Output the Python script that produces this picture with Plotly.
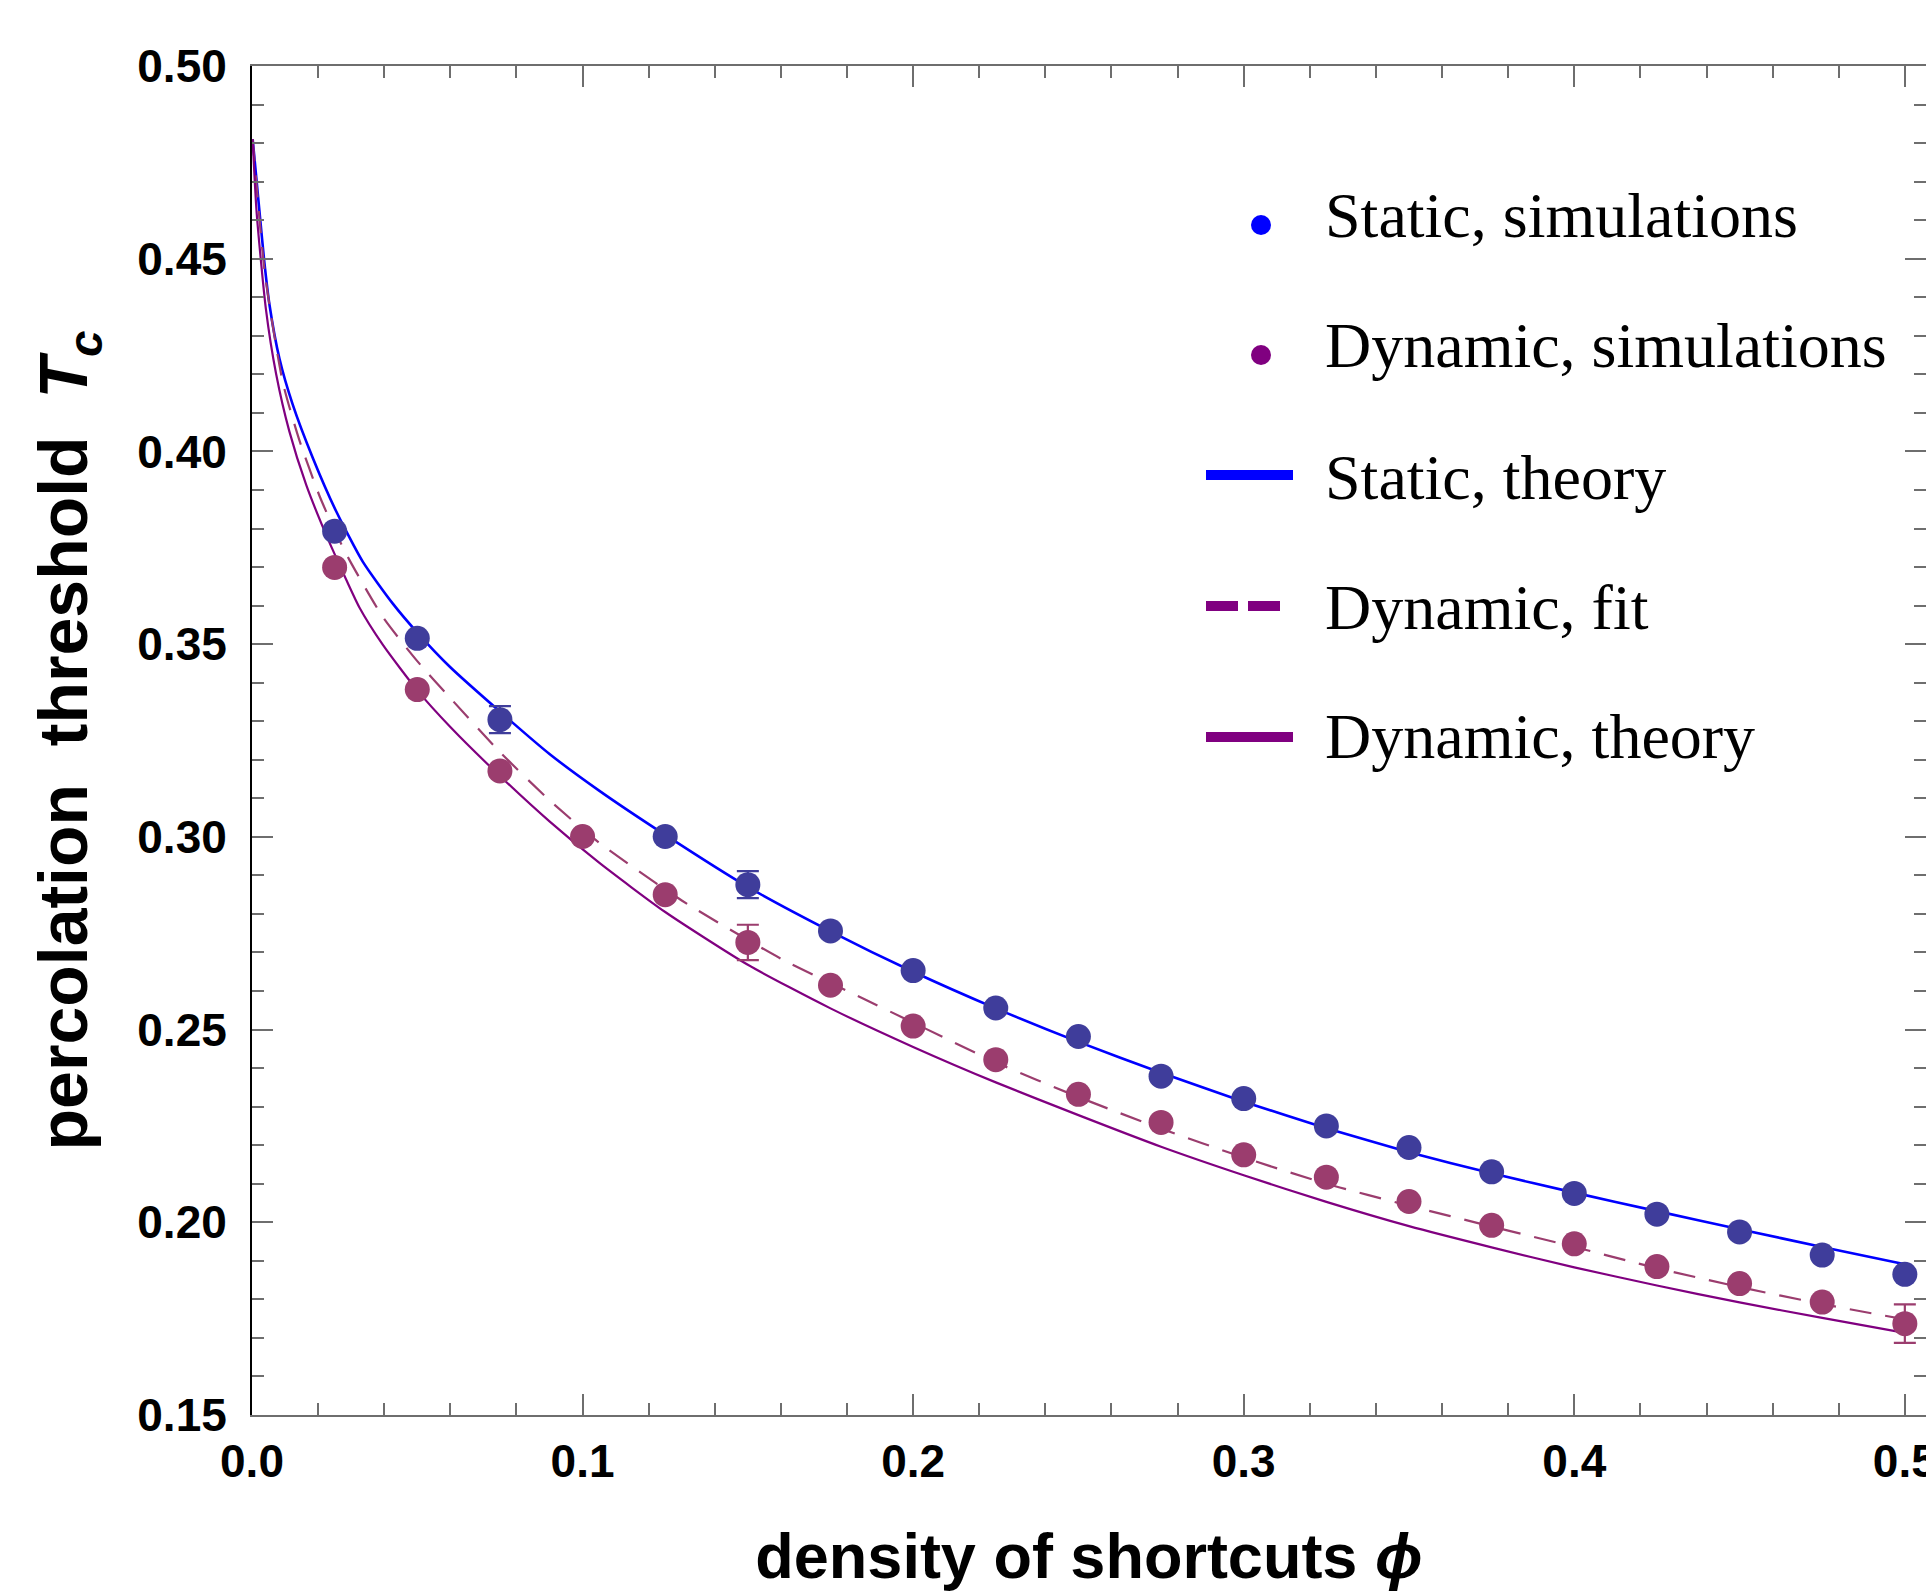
import plotly.graph_objects as go

# ---------------- data ----------------
static_x = [0.025, 0.05, 0.075, 0.125, 0.15, 0.175, 0.2, 0.225, 0.25, 0.275,
            0.3, 0.325, 0.35, 0.375, 0.4, 0.425, 0.45, 0.475, 0.5]
static_y = [0.3793, 0.3515, 0.3304, 0.3001, 0.2876, 0.2756, 0.2653, 0.2556, 0.2482, 0.2379,
            0.2321, 0.2250, 0.2194, 0.2131, 0.2075, 0.2021, 0.1975, 0.1915, 0.1865]
static_err = [0.0, 0.0, 0.0035, 0.0, 0.0035, 0.0, 0.0, 0.0, 0.0, 0.0,
              0.0, 0.0, 0.0, 0.0, 0.0, 0.0, 0.0, 0.0, 0.0]

dyn_x = [0.025, 0.05, 0.075, 0.1, 0.125, 0.15, 0.175, 0.2, 0.225, 0.25,
         0.275, 0.3, 0.325, 0.35, 0.375, 0.4, 0.425, 0.45, 0.475, 0.5]
dyn_y = [0.3699, 0.3382, 0.3171, 0.3001, 0.2850, 0.2726, 0.2615, 0.2509, 0.2422, 0.2332,
         0.2259, 0.2175, 0.2117, 0.2054, 0.1992, 0.1944, 0.1885, 0.1841, 0.1793, 0.1737]
dyn_err = [0.0, 0.0, 0.0, 0.0, 0.0, 0.0046, 0.0, 0.0, 0.0, 0.0,
           0.0, 0.0, 0.0, 0.0, 0.0, 0.0, 0.0, 0.0, 0.0, 0.005]

static_theory_x = [0.0002, 0.0022, 0.0037, 0.0053, 0.0083, 0.0123, 0.0184, 0.0255, 0.0335,
                   0.0426, 0.05, 0.06, 0.075, 0.09, 0.105, 0.125, 0.15, 0.175, 0.2, 0.225,
                   0.25, 0.275, 0.3, 0.325, 0.35, 0.375, 0.4, 0.425, 0.45, 0.475, 0.5]
static_theory_y = [0.4810, 0.4628, 0.4494, 0.4380, 0.4241, 0.4122, 0.3983, 0.3844, 0.3714,
                   0.3605, 0.3530, 0.3440, 0.3325, 0.3215, 0.3120, 0.3005, 0.2870, 0.2755, 0.2650, 0.2555,
                   0.2468, 0.2388, 0.2313, 0.2244, 0.2182, 0.2127, 0.2077, 0.2029, 0.1982, 0.1936, 0.1891]

dyn_fit_x = [0.0002, 0.004, 0.0093, 0.0143, 0.0204, 0.025, 0.0295, 0.0396, 0.05,
             0.06, 0.075, 0.09, 0.105, 0.13, 0.16, 0.185, 0.2, 0.225, 0.25, 0.275, 0.3,
             0.325, 0.35, 0.375, 0.4, 0.425, 0.45, 0.475, 0.5]
dyn_fit_y = [0.4810, 0.4455, 0.4180, 0.4030, 0.3885, 0.3795, 0.3718, 0.3570, 0.3456,
             0.3360, 0.3220, 0.3095, 0.2985, 0.2835, 0.2684, 0.2580, 0.2518, 0.2415, 0.2325, 0.2243, 0.2168,
             0.2100, 0.2043, 0.1989, 0.1936, 0.1881, 0.1832, 0.1788, 0.1748]

dyn_theory_x = [0.0002, 0.0014, 0.0042, 0.0073, 0.0113, 0.0164, 0.0224, 0.0265, 0.0325, 0.0396,
                0.05, 0.06, 0.075, 0.09, 0.105, 0.125, 0.15, 0.175, 0.2, 0.225, 0.25, 0.275,
                0.3, 0.325, 0.35, 0.375, 0.4, 0.425, 0.45, 0.475, 0.5]
dyn_theory_y = [0.4810, 0.4620, 0.4370, 0.4201, 0.4052, 0.3913, 0.3784, 0.3705, 0.3595, 0.3498,
                0.3380, 0.3285, 0.3158, 0.3040, 0.2933, 0.2805, 0.2668, 0.2555, 0.2455, 0.2363, 0.2278, 0.2196,
                0.2122, 0.2053, 0.1990, 0.1935, 0.1883, 0.1836, 0.1792, 0.1752, 0.1713]

legend_labels = ["Static, simulations", "Dynamic, simulations", "Static, theory",
                 "Dynamic, fit", "Dynamic, theory"]
x_title = "density of shortcuts <i>\u03d5</i>"
y_title = "percolation\u00a0\u00a0threshold\u00a0\u00a0<i>T</i><sub><i>c</i></sub>"

# ---------------- styling ----------------
W, H = 1926, 1591
ML, MR, MT, MB = 252, 0, 66, 176
PW, PH = W - ML - MR, H - MT - MB

C_STATIC_PT = "#3F3D9B"
C_DYN_PT = "#9B3D6E"
C_BLUE = "#0000FF"
C_PURPLE = "#800080"
C_DASH = "#9B3D6E"
SANS = "Liberation Sans, Arial, sans-serif"
SERIF = "Liberation Serif, Times New Roman, serif"


def px(xp):
    return (xp - ML) / PW


def py(yp):
    return (H - MB - yp) / PH


fig = go.Figure()

fig.add_trace(go.Scatter(x=static_theory_x, y=static_theory_y, mode="lines",
                         line=dict(color=C_BLUE, width=2.6, shape="spline", smoothing=0.6),
                         name=legend_labels[2], showlegend=False))
fig.add_trace(go.Scatter(x=dyn_fit_x, y=dyn_fit_y, mode="lines",
                         line=dict(color=C_DASH, width=2.2, dash="22px,14px", shape="spline", smoothing=0.6),
                         name=legend_labels[3], showlegend=False))
fig.add_trace(go.Scatter(x=dyn_theory_x, y=dyn_theory_y, mode="lines",
                         line=dict(color=C_PURPLE, width=2.2, shape="spline", smoothing=0.6),
                         name=legend_labels[4], showlegend=False))

fig.add_trace(go.Scatter(x=static_x, y=static_y, mode="markers",
                         marker=dict(color=C_STATIC_PT, size=25, line=dict(width=0)),
                         error_y=dict(type="data", array=static_err, visible=True,
                                      color=C_STATIC_PT, thickness=2.2, width=11),
                         name=legend_labels[0], showlegend=False))
fig.add_trace(go.Scatter(x=dyn_x, y=dyn_y, mode="markers",
                         marker=dict(color=C_DYN_PT, size=25, line=dict(width=0)),
                         error_y=dict(type="data", array=dyn_err, visible=True,
                                      color=C_DYN_PT, thickness=2.2, width=11),
                         name=legend_labels[1], showlegend=False))

# ---------------- hand-made legend (Mathematica style) ----------------
row_y = [216, 346, 477, 607, 737]
text_x = 1323
dot_cx = 1261
shapes = []
for c, yy in zip([C_BLUE, C_PURPLE], [225, 355]):
    r = 10
    shapes.append(dict(type="circle", xref="paper", yref="paper",
                       x0=px(dot_cx - r), x1=px(dot_cx + r), y0=py(yy + r), y1=py(yy - r),
                       fillcolor=c, line=dict(width=0)))
line_specs = [(C_BLUE, "solid", 475, 1206, 1293),
              (C_PURPLE, "32px,10px", 606, 1206, 1280),
              (C_PURPLE, "solid", 737, 1206, 1293)]
for c, d, yy, xa, xb in line_specs:
    shapes.append(dict(type="line", xref="paper", yref="paper",
                       x0=px(xa), x1=px(xb), y0=py(yy), y1=py(yy),
                       line=dict(color=c, width=10, dash=d)))

annotations = []
for lab, yy in zip(legend_labels, row_y):
    annotations.append(dict(text=lab, xref="paper", yref="paper", x=px(text_x), y=py(yy),
                            xanchor="left", yanchor="middle", showarrow=False,
                            font=dict(family=SERIF, size=64, color="black")))

fig.update_layout(
    width=W, height=H,
    margin=dict(l=ML, r=MR, t=MT, b=MB, pad=0),
    paper_bgcolor="white", plot_bgcolor="white",
    showlegend=False,
    shapes=shapes,
    annotations=annotations,
)

fig.update_xaxes(
    range=[0, 0.5064], tick0=0, dtick=0.1, tickformat=".1f",
    ticks="inside", ticklen=21, tickwidth=2, tickcolor="#6e6e6e",
    minor=dict(dtick=0.02, ticks="inside", ticklen=12, tickwidth=2, tickcolor="#6e6e6e"),
    showline=True, linecolor="#6e6e6e", linewidth=2, mirror="allticks",
    showgrid=False, zeroline=False,
    tickfont=dict(family=SANS, size=46, color="black", weight="bold"),
    ticklabelstandoff=5,
    ticklabeloverflow="allow",
    title=dict(text=x_title, standoff=58,
               font=dict(family=SANS, size=63, color="black", weight="bold")),
    automargin=False,
)
fig.update_yaxes(
    range=[0.15, 0.50], tick0=0.15, dtick=0.05, tickformat=".2f",
    ticks="inside", ticklen=21, tickwidth=2, tickcolor="#6e6e6e",
    minor=dict(dtick=0.01, ticks="inside", ticklen=12, tickwidth=2, tickcolor="#6e6e6e"),
    showline=True, linecolor="black", linewidth=2, mirror="allticks",
    showgrid=False, zeroline=False,
    tickfont=dict(family=SANS, size=46, color="black", weight="bold"),
    ticklabelstandoff=14,
    title=dict(text=y_title, standoff=27,
               font=dict(family=SANS, size=68, color="black", weight="bold")),
    automargin=False,
)

fig.write_html("out.html", config={"displayModeBar": False},
               post_script="document.body.style.margin='0';document.body.style.overflow='hidden';")
